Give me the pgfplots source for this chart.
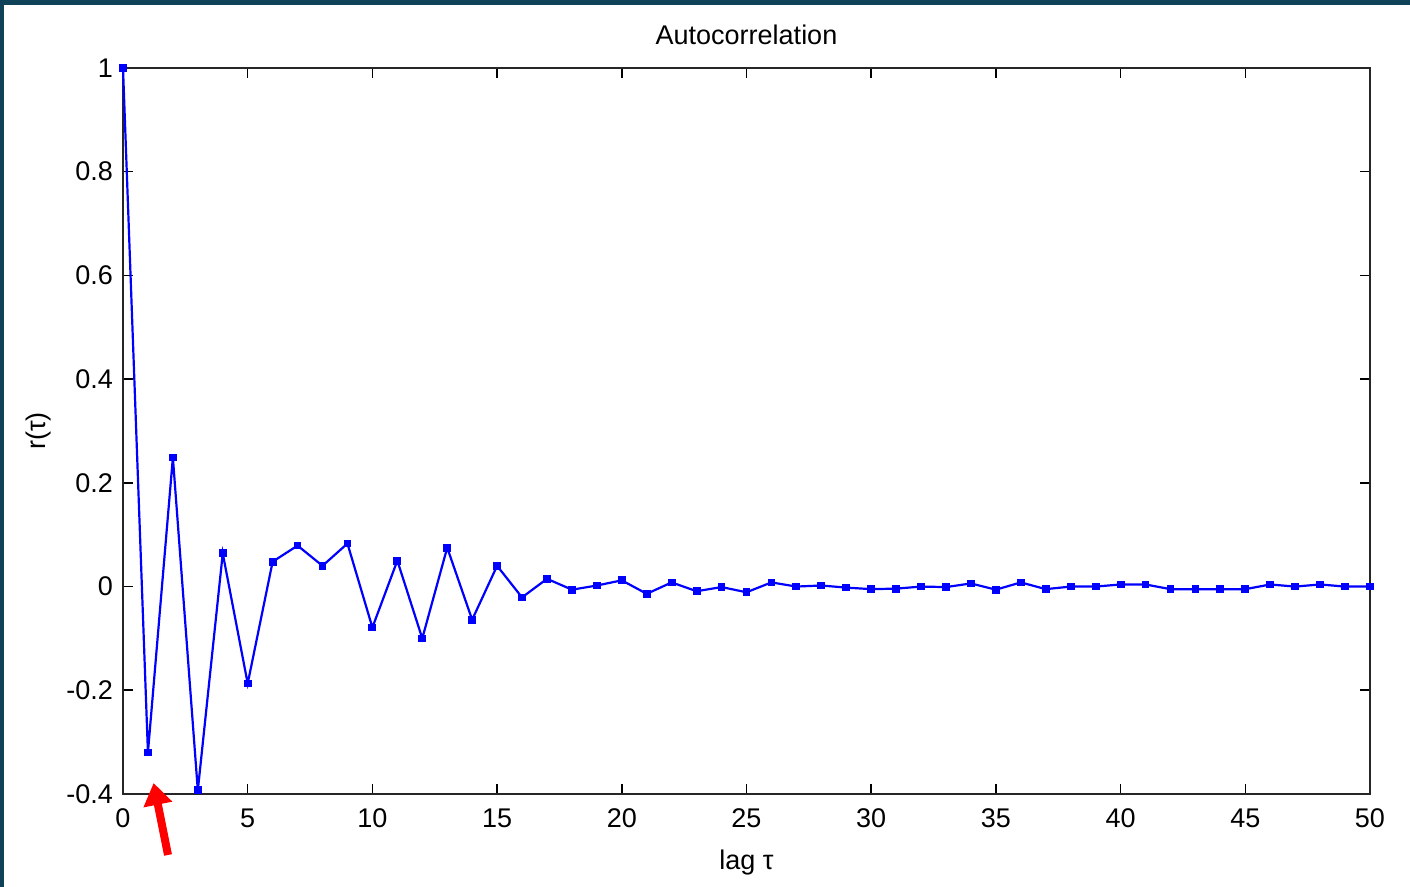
\documentclass[border=0pt]{standalone}
\usepackage{fontspec}
\setmainfont{Liberation Sans}
\usepackage{pgfplots}
\pgfplotsset{compat=1.18}
\usetikzlibrary{arrows.meta}
\definecolor{frame}{RGB}{15,65,89}
\definecolor{mblue}{RGB}{0,0,255}
\begin{document}
\begin{tikzpicture}
\useasboundingbox (0,0) rectangle (705pt,443.5pt);
\fill[white] (0,0) rectangle (705pt,443.5pt);
\fill[frame] (0,441pt) rectangle (705pt,443.5pt);
\fill[frame] (0,0) rectangle (2pt,443.5pt);
\begin{axis}[
  at={(61.5pt,46.5pt)}, anchor=south west,
  scale only axis, width=623.5pt, height=363pt,
  xmin=0, xmax=50, ymin=-0.4, ymax=1,
  xtick={0,5,...,50},
  ytick={-0.4,-0.2,0,0.2,0.4,0.6,0.8,1},
  yticklabels={-0.4,-0.2,0,0.2,0.4,0.6,0.8,1},
  xticklabels={0,5,10,15,20,25,30,35,40,45,50},
  xtick pos=both, ytick pos=both, tick align=inside,
  major tick length=5pt,
  tick style={line width=0.8pt, black},
  axis line style={line width=1pt, black!85},
  ticklabel style={font=\fontsize{13.5}{15}\selectfont},
  /pgf/number format/assume math mode=true,
  xticklabel style={yshift=-4pt},
  yticklabel style={xshift=-1.5pt},
  title={Autocorrelation},
  title style={font=\fontsize{13.5}{15}\selectfont, yshift=2pt},
  xlabel={lag τ},
  xlabel style={font=\fontsize{13.5}{15}\selectfont, yshift=-4pt},
  ylabel={r(τ)},
  ylabel style={font=\fontsize{13.5}{15}\selectfont, yshift=1pt},
  clip=false,
]
\addplot[color=mblue, line width=1.1pt, mark=square*, mark size=1.4pt, mark options={fill=mblue}] coordinates {
(0,1) (1,-0.320) (2,0.249) (3,-0.393) (4,0.064) (5,-0.187) (6,0.048) (7,0.079) (8,0.040) (9,0.083)
(10,-0.079) (11,0.050) (12,-0.100) (13,0.075) (14,-0.064) (15,0.040) (16,-0.021) (17,0.015) (18,-0.006) (19,0.002)
(20,0.012) (21,-0.014) (22,0.008) (23,-0.009) (24,-0.001) (25,-0.011) (26,0.008) (27,0.000) (28,0.002) (29,-0.002)
(30,-0.005) (31,-0.004) (32,0.000) (33,-0.001) (34,0.006) (35,-0.006) (36,0.008) (37,-0.005) (38,0.000) (39,0.000)
(40,0.004) (41,0.004) (42,-0.005) (43,-0.005) (44,-0.005) (45,-0.005) (46,0.004) (47,0.000) (48,0.004) (49,0.000)
(50,0.000)
};
\end{axis}
\draw[red, line width=4pt, -{Triangle[length=11pt, width=14pt]}] (84pt,16pt) -- (76.8pt,52pt);
\end{tikzpicture}
\end{document}
